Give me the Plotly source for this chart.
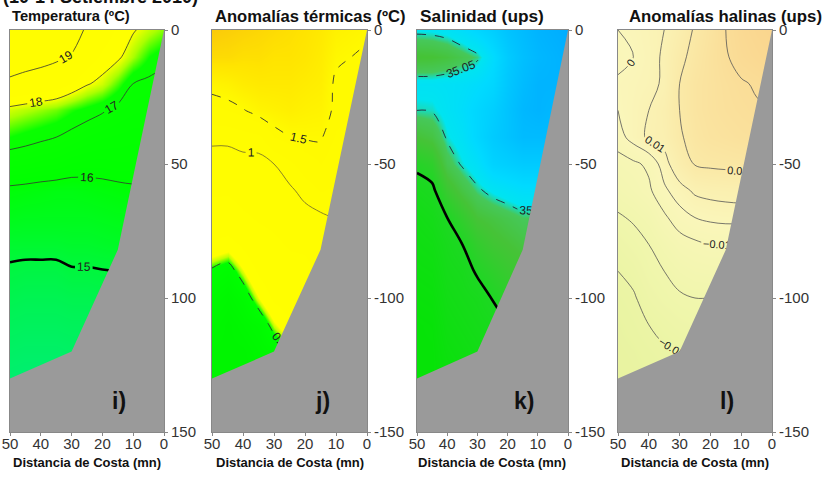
import plotly.graph_objects as go

W, H = 826, 477
FONT = "Liberation Sans, Arial, Helvetica, sans-serif"

# ---------------- data ----------------
DIST = [50, 45, 40, 35, 30, 25, 20, 15, 10, 5, 0]          # mn from coast
DEPTH = [0, -10, -20, -30, -40, -50, -60, -70, -80, -90, -100, -110, -120, -130]  # m

# seabed profile (distance, depth) closed to the plot bottom
BOTTOM_DIST = [0, 15, 30, 50, 52, 52, -2, -2]
BOTTOM_DEPTH = [0, -82, -120, -130, -130, -155, -155, 0]

# Temperature (ºC): rows = DEPTH, columns = DIST
TEMP = [
    [19.6, 19.6, 19.55, 19.5, 19.35, 18.9, 18.6, 18.3, 18.05, 17.8, 17.6],
    [19.3, 19.25, 19.2, 19.1, 18.95, 18.6, 18.3, 18.1, 17.7, 17.3, 17.1],
    [18.9, 18.8, 18.7, 18.6, 18.35, 18.05, 17.85, 17.45, 17.0, 16.9, 16.85],
    [17.85, 17.75, 17.65, 17.55, 17.35, 17.2, 17.05, 16.85, 16.75, 16.7, 16.7],
    [17.3, 17.2, 17.1, 17.0, 16.85, 16.7, 16.6, 16.55, 16.5, 16.5, 16.5],
    [16.65, 16.6, 16.5, 16.45, 16.3, 16.25, 16.25, 16.3, 16.3, 16.3, 16.3],
    [15.85, 15.8, 15.75, 15.7, 15.7, 15.75, 15.8, 15.85, 15.9, 15.9, 15.9],
    [15.55, 15.5, 15.5, 15.5, 15.5, 15.5, 15.55, 15.6, 15.6, 15.6, 15.6],
    [15.2, 15.2, 15.2, 15.2, 15.25, 15.25, 15.3, 15.35, 15.35, 15.35, 15.35],
    [14.9, 14.85, 14.85, 14.85, 14.95, 14.95, 14.98, 15.0, 15.0, 15.0, 15.0],
    [14.7, 14.65, 14.65, 14.65, 14.7, 14.7, 14.75, 14.8, 14.8, 14.8, 14.8],
    [14.5, 14.45, 14.45, 14.45, 14.5, 14.5, 14.55, 14.6, 14.6, 14.6, 14.6],
    [14.3, 14.25, 14.25, 14.25, 14.3, 14.3, 14.35, 14.4, 14.4, 14.4, 14.4],
    [14.1, 14.05, 14.05, 14.05, 14.1, 14.1, 14.15, 14.2, 14.2, 14.2, 14.2],
]

# Thermal anomalies (ºC)
ANOM_T = [
    [2.2, 2.15, 2.1, 2.05, 2.0, 1.95, 1.9, 1.8, 1.65, 1.6, 1.55],
    [2.0, 2.0, 1.95, 1.95, 1.9, 1.9, 1.85, 1.75, 1.55, 1.5, 1.45],
    [1.6, 1.65, 1.75, 1.8, 1.8, 1.8, 1.75, 1.7, 1.45, 1.42, 1.4],
    [1.35, 1.4, 1.48, 1.6, 1.65, 1.7, 1.65, 1.62, 1.45, 1.4, 1.38],
    [1.05, 1.05, 1.1, 1.15, 1.4, 1.49, 1.52, 1.52, 1.38, 1.35, 1.35],
    [0.9, 0.9, 0.92, 0.9, 1.0, 1.15, 1.3, 1.4, 1.28, 1.25, 1.25],
    [0.8, 0.8, 0.85, 0.85, 0.9, 0.95, 1.08, 1.2, 1.15, 1.15, 1.15],
    [0.7, 0.68, 0.75, 0.8, 0.82, 0.85, 0.9, 0.95, 1.02, 1.05, 1.05],
    [0.55, 0.52, 0.6, 0.7, 0.75, 0.8, 0.8, 0.85, 0.9, 0.95, 0.95],
    [0.38, 0.34, 0.46, 0.6, 0.68, 0.72, 0.75, 0.8, 0.85, 0.9, 0.9],
    [0.3, 0.25, 0.32, 0.47, 0.6, 0.65, 0.7, 0.75, 0.8, 0.85, 0.85],
    [0.25, 0.2, 0.25, 0.3, 0.45, 0.55, 0.6, 0.65, 0.7, 0.75, 0.75],
    [0.2, 0.2, 0.2, 0.25, 0.3, 0.4, 0.5, 0.55, 0.6, 0.65, 0.65],
    [0.2, 0.2, 0.2, 0.2, 0.25, 0.3, 0.4, 0.45, 0.5, 0.55, 0.55],
]

# Salinity (ups)
SAL = [
    [35.054, 35.055, 35.058, 35.065, 35.075, 35.085, 35.1, 35.11, 35.12, 35.125, 35.13],
    [35.028, 35.029, 35.033, 35.04, 35.047, 35.068, 35.09, 35.105, 35.115, 35.12, 35.125],
    [35.058, 35.058, 35.06, 35.062, 35.067, 35.075, 35.095, 35.11, 35.12, 35.12, 35.12],
    [35.05, 35.051, 35.058, 35.065, 35.075, 35.085, 35.1, 35.115, 35.12, 35.115, 35.115],
    [35.03, 35.035, 35.052, 35.06, 35.075, 35.09, 35.1, 35.11, 35.11, 35.11, 35.11],
    [35.005, 35.012, 35.04, 35.052, 35.062, 35.08, 35.085, 35.09, 35.09, 35.09, 35.09],
    [34.99, 34.995, 35.02, 35.035, 35.047, 35.055, 35.06, 35.065, 35.065, 35.065, 35.065],
    [34.98, 34.985, 35.0, 35.015, 35.03, 35.035, 35.04, 35.045, 35.045, 35.045, 35.045],
    [34.975, 34.978, 34.99, 35.0, 35.015, 35.025, 35.03, 35.035, 35.035, 35.035, 35.035],
    [34.97, 34.972, 34.985, 34.99, 35.003, 35.012, 35.02, 35.025, 35.025, 35.025, 35.025],
    [34.965, 34.967, 34.98, 34.985, 34.99, 35.001, 35.01, 35.015, 35.015, 35.015, 35.015],
    [34.96, 34.962, 34.975, 34.98, 34.985, 34.99, 35.0, 35.005, 35.005, 35.005, 35.005],
    [34.96, 34.96, 34.97, 34.975, 34.98, 34.985, 34.99, 35.0, 35.0, 35.0, 35.0],
    [34.96, 34.96, 34.965, 34.97, 34.975, 34.98, 34.985, 34.99, 34.99, 34.99, 34.99],
]

# Haline anomalies (ups)
ANOM_S = [
    [0.0, 0.002, 0.006, 0.01, 0.02, 0.032, 0.04, 0.05, 0.056, 0.06, 0.062],
    [-0.002, 0.0, 0.005, 0.012, 0.026, 0.035, 0.042, 0.049, 0.054, 0.057, 0.06],
    [0.001, 0.003, 0.006, 0.012, 0.03, 0.038, 0.042, 0.046, 0.049, 0.051, 0.054],
    [0.0, 0.004, 0.01, 0.016, 0.03, 0.038, 0.042, 0.045, 0.047, 0.049, 0.05],
    [-0.004, 0.004, 0.012, 0.015, 0.028, 0.036, 0.04, 0.042, 0.044, 0.045, 0.046],
    [-0.015, -0.012, -0.008, 0.005, 0.02, 0.031, 0.033, 0.034, 0.035, 0.035, 0.035],
    [-0.022, -0.018, -0.012, -0.002, 0.005, 0.012, 0.014, 0.015, 0.016, 0.016, 0.016],
    [-0.032, -0.028, -0.022, -0.012, -0.004, 0.0, 0.002, 0.003, 0.003, 0.003, 0.003],
    [-0.042, -0.036, -0.03, -0.022, -0.015, -0.012, -0.01, -0.01, -0.01, -0.01, -0.01],
    [-0.05, -0.045, -0.035, -0.03, -0.024, -0.021, -0.02, -0.02, -0.02, -0.02, -0.02],
    [-0.056, -0.052, -0.042, -0.036, -0.032, -0.03, -0.03, -0.03, -0.03, -0.03, -0.03],
    [-0.06, -0.056, -0.05, -0.045, -0.04, -0.038, -0.037, -0.037, -0.037, -0.037, -0.037],
    [-0.062, -0.06, -0.056, -0.052, -0.05, -0.047, -0.045, -0.045, -0.045, -0.045, -0.045],
    [-0.064, -0.062, -0.06, -0.058, -0.056, -0.053, -0.05, -0.05, -0.05, -0.05, -0.05],
]

SUPTITLE = "(10-14 Setiembre 2010)"
TITLES = ["Temperatura (ºC)", "Anomalías térmicas (ºC)", "Salinidad (ups)", "Anomalías halinas (ups)"]
LETTERS = ["i)", "j)", "k)", "l)"]
XLABEL = "Distancia de Costa (mn)"
X_TICKS = [50, 40, 30, 20, 10, 0]
Y_TICKS = [0, -50, -100, -150]
Y_TEXT_FIRST = ["0", "50", "100", "150"]
Y_TEXT = ["0", "-50", "-100", "-150"]

# ---------------- styles ----------------
PANELS = [(10, 164), (212, 367), (417, 568), (618, 772)]   # pixel x extents
TITLE_X = [10, 213, 418, 627]
TITLE_SIZE = [14.7, 16.6, 17.3, 16.8]
TOP, BOT = 30, 432
GRAY = "#9a9a9a"

CS_T = [[0, "rgb(0,238,115)"], [0.1, "rgb(0,243,85)"], [0.2167, "rgb(0,250,40)"],
        [0.333, "rgb(0,255,0)"], [0.55, "rgb(10,255,0)"], [0.617, "rgb(170,255,0)"],
        [0.675, "rgb(255,255,0)"], [1, "rgb(255,252,0)"]]
CS_AT = [[0, "rgb(0,235,0)"], [0.1667, "rgb(0,255,0)"], [0.183, "rgb(190,255,0)"],
         [0.196, "rgb(255,255,0)"], [0.625, "rgb(255,250,0)"], [0.79, "rgb(255,228,0)"],
         [0.917, "rgb(250,202,10)"], [1, "rgb(250,190,10)"]]
CS_S = [[0, "rgb(0,230,0)"], [0.263, "rgb(30,215,35)"], [0.42, "rgb(70,195,55)"],
        [0.5, "rgb(70,200,90)"], [0.545, "rgb(0,228,240)"], [0.632, "rgb(0,218,255)"],
        [0.789, "rgb(0,195,255)"], [1, "rgb(0,165,255)"]]
CS_AS = [[0, "rgb(232,243,160)"], [0.25, "rgb(240,246,172)"], [0.5, "rgb(250,246,186)"],
         [0.75, "rgb(250,232,165)"], [1, "rgb(250,212,140)"]]


def px_x(p):
    return p / W


def px_y(p):
    return 1 - p / H


fig = go.Figure()


def heat(z, cs, zmin, zmax, n):
    fig.add_trace(go.Heatmap(x=DIST, y=DEPTH, z=z, zsmooth="best", colorscale=cs,
                             zmin=zmin, zmax=zmax, showscale=False, hoverinfo="skip",
                             xaxis=f"x{n}", yaxis=f"y{n}"))


def lines(z, start, end, size, n, color="#333", width=0.8, dash="solid", labels=True, lsize=12):
    fig.add_trace(go.Contour(x=DIST, y=DEPTH, z=z, autocontour=False,
                             contours=dict(coloring="none", start=start, end=end, size=size,
                                           showlabels=labels, labelformat=".2~f",
                                           labelfont=dict(family=FONT, size=lsize, color="#222")),
                             line=dict(color=color, width=width, dash=dash, smoothing=1.0),
                             showscale=False, hoverinfo="skip", xaxis=f"x{n}", yaxis=f"y{n}"))


def seabed(n):
    fig.add_trace(go.Scatter(x=BOTTOM_DIST, y=BOTTOM_DEPTH, mode="lines", fill="toself",
                             fillcolor=GRAY, line=dict(width=0, color=GRAY),
                             hoverinfo="skip", showlegend=False, xaxis=f"x{n}", yaxis=f"y{n}"))


# panel i
heat(TEMP, CS_T, 14, 20, 1)
lines(TEMP, 16, 19, 1, 1, color="#333", width=0.8)
lines(TEMP, 15, 15, 1, 1, color="#000", width=2.6)
seabed(1)
# panel j
heat(ANOM_T, CS_AT, 0, 2.4, 2)
lines(ANOM_T, 1.5, 1.5, 1, 2, color="#333", width=0.9, dash="dash")
lines(ANOM_T, 1, 1, 1, 2, color="#6b6330", width=0.8)
lines(ANOM_T, 0.4, 0.4, 1, 2, color="#333", width=0.9, dash="dash")
seabed(2)
# panel k
heat(SAL, CS_S, 34.95, 35.14, 3)
lines(SAL, 35.05, 35.05, 1, 3, color="#223", width=0.9, dash="dash")
lines(SAL, 35.0, 35.0, 1, 3, color="#000", width=2.6)
seabed(3)
# panel l
heat(ANOM_S, CS_AS, -0.065, 0.065, 4)
lines(ANOM_S, -0.05, 0.05, 0.02, 4, color="#555", width=0.8, lsize=11)
lines(ANOM_S, 0, 0, 1, 4, color="#555", width=0.8, lsize=11)
seabed(4)

layout = dict(width=W, height=H, margin=dict(l=0, r=0, t=0, b=0, autoexpand=False),
              paper_bgcolor="white", plot_bgcolor="white", showlegend=False,
              font=dict(family=FONT, color="#222"))

annotations = [dict(text=f"<b>{SUPTITLE}</b>", x=px_x(1), y=px_y(-3), xref="paper", yref="paper",
                    xanchor="left", yanchor="middle", showarrow=False,
                    font=dict(family=FONT, size=18, color="#111"))]

for i, (x0, x1) in enumerate(PANELS):
    n = i + 1
    sfx = "" if n == 1 else str(n)
    layout[f"xaxis{sfx}"] = dict(domain=[px_x(x0), px_x(x1)], range=[50, 0], anchor=f"y{n}",
                                 automargin=False,
                                 tickvals=X_TICKS, ticks="outside", ticklen=3, tickcolor="#888",
                                 ticklabelstandoff=-5,
                                 showline=True, linecolor="#888", linewidth=1, mirror=True,
                                 showgrid=False, zeroline=False,
                                 tickfont=dict(family=FONT, size=15, color="#333"))
    layout[f"yaxis{sfx}"] = dict(domain=[px_y(BOT), px_y(TOP)], range=[-150, 0], anchor=f"x{n}",
                                 automargin=False,
                                 side="right", tickvals=Y_TICKS,
                                 ticktext=Y_TEXT_FIRST if n == 1 else Y_TEXT,
                                 ticks="outside", ticklen=3, tickcolor="#888",
                                 showline=True, linecolor="#888", linewidth=1, mirror=True,
                                 showgrid=False, zeroline=False,
                                 tickfont=dict(family=FONT, size=15, color="#333"))
    annotations.append(dict(text=f"<b>{TITLES[i]}</b>", x=px_x(TITLE_X[i]), y=px_y(16),
                            xref="paper", yref="paper", xanchor="left", yanchor="middle",
                            showarrow=False, font=dict(family=FONT, size=TITLE_SIZE[i], color="#111")))
    annotations.append(dict(text=f"<b>{LETTERS[i]}</b>", x=px_x(x0 + 0.71 * (x1 - x0)), y=px_y(401),
                            xref="paper", yref="paper", xanchor="center", yanchor="middle",
                            showarrow=False, font=dict(family=FONT, size=23, color="#111")))
    annotations.append(dict(text=f"<b>{XLABEL}</b>", x=px_x((x0 + x1) / 2), y=px_y(462),
                            xref="paper", yref="paper", xanchor="center", yanchor="middle",
                            showarrow=False, font=dict(family=FONT, size=13, color="#111")))

layout["annotations"] = annotations
fig.update_layout(**layout)
fig.write_html("out.html")
